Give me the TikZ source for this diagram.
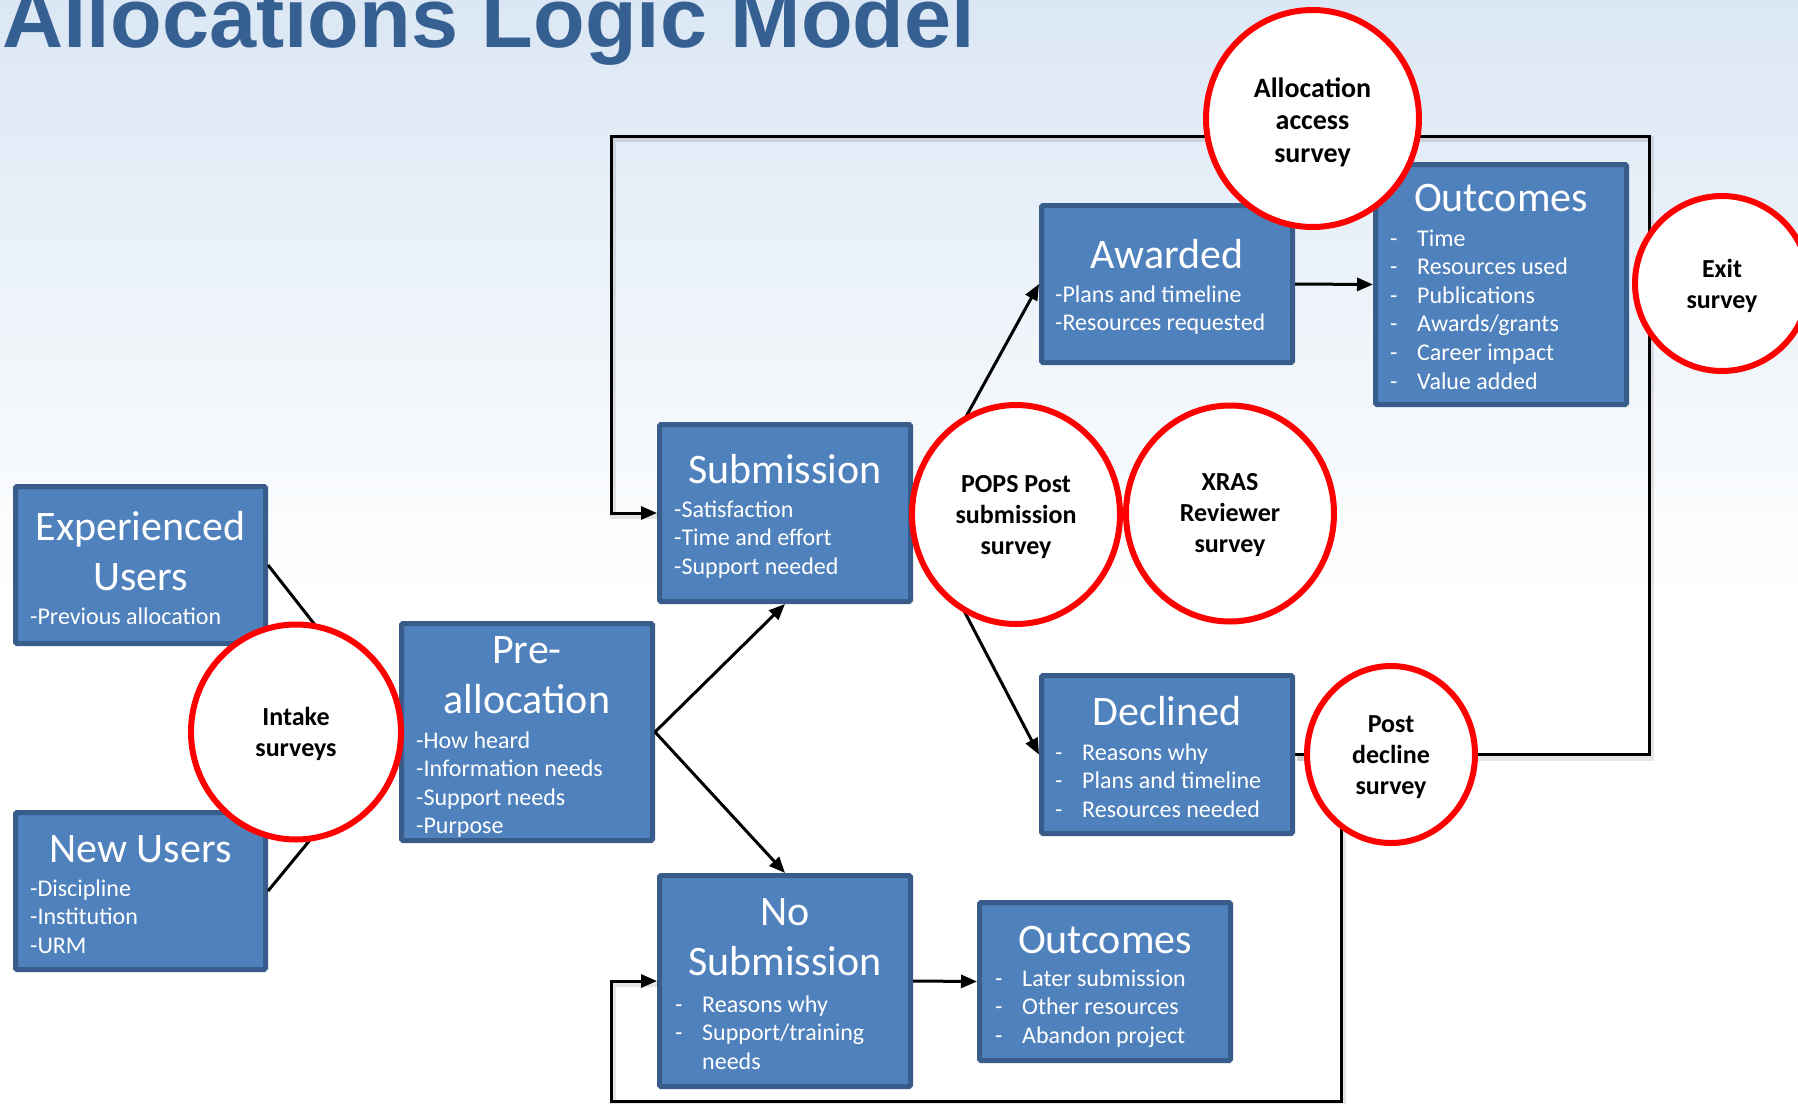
\documentclass[tikz,border=0pt]{standalone}
\usepackage{fontspec}
\setmainfont{Carlito}
\newfontfamily\headfont{Liberation Sans}
\usetikzlibrary{arrows.meta,shapes.geometric}
\definecolor{boxblue}{RGB}{79,129,189}
\definecolor{boxedge}{RGB}{56,93,138}
\definecolor{headblue}{RGB}{55,96,146}
\definecolor{bgblue}{RGB}{219,231,244}
\definecolor{ringred}{RGB}{255,0,0}
\newcommand\dashitem[1]{\makebox[27pt][l]{-}#1}
\newcommand\dashcont[1]{\makebox[27pt][l]{}#1}
\tikzset{
  bluebox/.style={rectangle, draw=boxedge, line width=5pt, fill=boxblue, inner sep=0pt, rounded corners=1.5pt},
  ring/.style={ellipse, draw=ringred, line width=6pt, fill=white, inner sep=0pt},
  boxhead/.style={text=white, inner sep=0pt, anchor=base, font=\fontsize{42}{50}\selectfont},
  boxbody/.style={text=white, inner sep=0pt, anchor=base west, font=\fontsize{24}{28.6}\selectfont},
  ringtext/.style={text=black, inner sep=0pt, anchor=base, font=\fontsize{26}{31}\selectfont\bfseries},
  link/.style={line width=3pt, draw=black},
  arrowlink/.style={link, -{Triangle[length=16pt,width=13pt]}},
  shadowline/.style={line width=6pt, draw=black, opacity=0.10},
}
\begin{document}
\begin{tikzpicture}[x=1pt,y=-1pt]
\useasboundingbox (0,0) rectangle (1798,1103);
\clip (0,0) rectangle (1798,1103);
% background
\shade[top color=bgblue, bottom color=white] (0,0) rectangle (1798,600);
\fill[white] (0,600) rectangle (1798,1103);

% title
\node[anchor=base west, inner sep=0pt, text=headblue, font=\headfont\bfseries\fontsize{84.6}{90}\selectfont] (title) at (2,47) {Allocations Logic Model};

% boxes
\node[bluebox, minimum width=250pt, minimum height=157pt] (exp) at (140.5,565) {};
\node[bluebox, minimum width=250pt, minimum height=157pt] (new) at (140.5,891) {};
\node[bluebox, minimum width=251pt, minimum height=217pt] (pre) at (527,732) {};
\node[bluebox, minimum width=251pt, minimum height=177pt] (sub) at (785,513) {};
\node[bluebox, minimum width=251pt, minimum height=211pt] (nosub) at (785,981) {};
\node[bluebox, minimum width=251pt, minimum height=158pt] (outb) at (1105,981.5) {};
\node[bluebox, minimum width=251pt, minimum height=157pt] (awd) at (1167,284) {};
\node[bluebox, minimum width=251pt, minimum height=158pt] (dec) at (1167,754.5) {};
\node[bluebox, minimum width=251pt, minimum height=240pt] (outt) at (1501,284.5) {};

% loop shadows
\begin{scope}[transform canvas={shift={(2pt,-3pt)}}]
\draw[shadowline] (dec.east) -| (1649,136) -| (611,513) -- (sub.west);
\draw[shadowline] (dec.east) -| (1341,1101) -| (611,981) -- (nosub.west);
\end{scope}

% connectors
\draw[link] (exp.east) -- (pre.west);
\draw[link] (new.east) -- (pre.west);
\draw[arrowlink] (pre.east) -- (sub.south);
\draw[arrowlink] (pre.east) -- (nosub.north);
\draw[arrowlink] (sub.east) -- (awd.west);
\draw[arrowlink] (sub.east) -- (dec.west);
\draw[arrowlink] (awd.east) -- (outt.west);
\draw[arrowlink] (nosub.east) -- (outb.west);
\draw[arrowlink] (dec.east) -| (1649,136) -| (611,513) -- (sub.west);
\draw[arrowlink] (dec.east) -| (1341,1101) -| (611,981) -- (nosub.west);

% rings
\node[ring, minimum width=210pt, minimum height=215pt] (intake) at (296,732) {};
\node[ring, minimum width=208pt, minimum height=219pt] (pops) at (1016,514.5) {};
\node[ring, minimum width=208pt, minimum height=216pt] (xras) at (1230,513.5) {};
\node[ring, minimum width=213pt, minimum height=217pt] (alloc) at (1312.5,118.5) {};
\node[ring, minimum width=174pt, minimum height=175pt] (exit) at (1722,283.5) {};
\node[ring, minimum width=168pt, minimum height=177pt] (post) at (1391,754.5) {};

% box texts
\node[boxhead] (exph) at (140.5,540) {\parbox[t]{250pt}{\centering Experienced\\Users}};
\node[boxbody] (expb) at (30,624) {\parbox[t]{235pt}{\raggedright -Previous allocation}};
\node[boxhead] (newh) at (140.5,862) {\parbox[t]{250pt}{\centering New Users}};
\node[boxbody] (newb) at (30,896) {\parbox[t]{235pt}{\raggedright -Discipline\\-Institution\\-URM}};
\node[boxhead] (preh) at (527,663) {\parbox[t]{250pt}{\centering Pre-\\allocation}};
\node[boxbody] (preb) at (416,748) {\parbox[t]{235pt}{\raggedright -How heard\\-Information needs\\-Support needs\\-Purpose}};
\node[boxhead] (subh) at (785,483) {\parbox[t]{250pt}{\centering Submission}};
\node[boxbody] (subb) at (674,517) {\parbox[t]{235pt}{\raggedright -Satisfaction\\-Time and effort\\-Support needed}};
\node[boxhead] (nosubh) at (785,925) {\parbox[t]{250pt}{\centering No\\Submission}};
\node[boxbody] (nosubb) at (675,1012) {\parbox[t]{235pt}{\raggedright \dashitem{Reasons why}\\\dashitem{Support/training}\\\dashcont{needs}}};
\node[boxhead] (outbh) at (1105,953) {\parbox[t]{250pt}{\centering Outcomes}};
\node[boxbody] (outbb) at (995,986) {\parbox[t]{235pt}{\raggedright \dashitem{Later submission}\\\dashitem{Other resources}\\\dashitem{Abandon project}}};
\node[boxhead] (awdh) at (1167,268) {\parbox[t]{250pt}{\centering Awarded}};
\node[boxbody] (awdb) at (1055,302) {\parbox[t]{235pt}{\raggedright -Plans and timeline\\-Resources requested}};
\node[boxhead] (dech) at (1167,725) {\parbox[t]{250pt}{\centering Declined}};
\node[boxbody] (decb) at (1055,760) {\parbox[t]{235pt}{\raggedright \dashitem{Reasons why}\\\dashitem{Plans and timeline}\\\dashitem{Resources needed}}};
\node[boxhead] (outth) at (1501,211) {\parbox[t]{250pt}{\centering Outcomes}};
\node[boxbody] (outtb) at (1390,246) {\parbox[t]{235pt}{\raggedright \dashitem{Time}\\\dashitem{Resources used}\\\dashitem{Publications}\\\dashitem{Awards/grants}\\\dashitem{Career impact}\\\dashitem{Value added}}};

% ring texts
\node[ringtext] (intaket) at (296,725) {\parbox[t]{200pt}{\centering Intake\\surveys}};
\node[ringtext] (popst) at (1016,492) {\parbox[t]{200pt}{\centering POPS Post\\submission\\survey}};
\node[ringtext] (xrast) at (1230,490) {\parbox[t]{200pt}{\centering XRAS\\Reviewer\\survey}};
\node[ringtext, font=\fontsize{28}{32.5}\selectfont\bfseries] (alloct) at (1312.5,97) {\parbox[t]{200pt}{\centering Allocation\\access\\survey}};
\node[ringtext] (exitt) at (1722,277) {\parbox[t]{160pt}{\centering Exit\\survey}};
\node[ringtext] (postt) at (1391,732) {\parbox[t]{160pt}{\centering Post\\decline\\survey}};
\end{tikzpicture}
\end{document}
